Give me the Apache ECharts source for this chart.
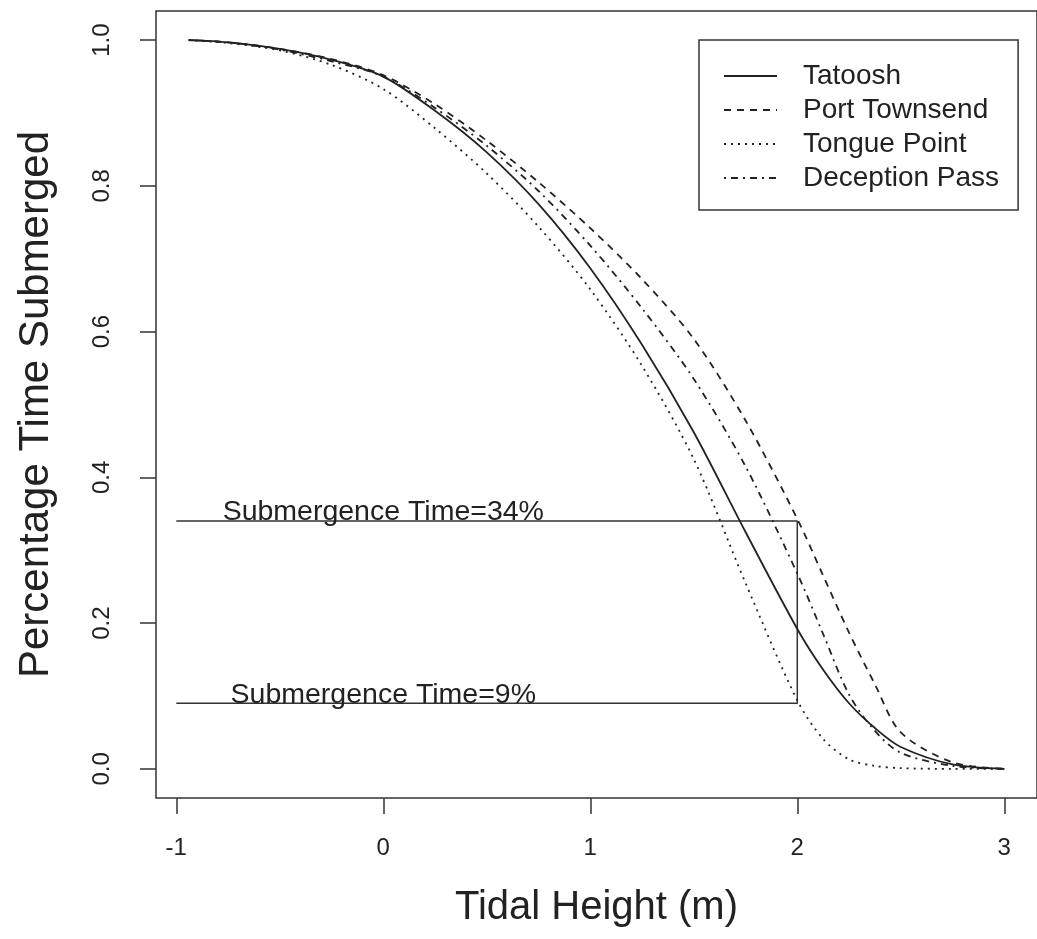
<!DOCTYPE html>
<html>
<head>
<meta charset="utf-8">
<script src="https://cdn.jsdelivr.net/npm/echarts@6/dist/echarts.min.js"></script>
<style>
html,body{margin:0;padding:0;background:#fff;overflow:hidden}
#c{width:1037px;height:939px}
</style>
</head>
<body>
<div id="c"></div>
<script>
// ---- data ----
const tidalHeight   = [-0.94, -0.75, -0.5, -0.25, 0, 0.25, 0.5, 0.75, 1.0, 1.25, 1.5, 1.75, 2.0, 2.125, 2.25, 2.375, 2.5, 2.75, 3.0];
const tatoosh       = [1.0, 0.997, 0.988, 0.973, 0.950, 0.903, 0.846, 0.775, 0.687, 0.582, 0.462, 0.325, 0.192, 0.136, 0.090, 0.056, 0.030, 0.006, 0.0];
const portTownsend  = [1.0, 0.997, 0.988, 0.974, 0.952, 0.912, 0.862, 0.805, 0.742, 0.672, 0.590, 0.478, 0.343, 0.265, 0.187, 0.116, 0.050, 0.009, 0.0];
const tonguePoint   = [1.0, 0.996, 0.986, 0.966, 0.933, 0.879, 0.817, 0.744, 0.658, 0.553, 0.425, 0.255, 0.094, 0.041, 0.013, 0.004, 0.001, 0.0, 0.0];
const deceptionPass = [1.0, 0.997, 0.987, 0.971, 0.950, 0.907, 0.855, 0.793, 0.718, 0.632, 0.535, 0.415, 0.268, 0.185, 0.102, 0.052, 0.022, 0.004, 0.0];
const seriesNames   = ['Tatoosh', 'Port Townsend', 'Tongue Point', 'Deception Pass'];

const refX = [-1, 2, 2, -1];
const refY = [0.34, 0.34, 0.09, 0.09];
const annotationX = [0, 0];
const annotationY = [0.34, 0.09];
const annotationLabels = ['Submergence Time=34%', 'Submergence Time=9%'];

const xTicks = [-1, 0, 1, 2, 3];
const yTicks = [0, 0.2, 0.4, 0.6, 0.8, 1.0];
const xTitle = 'Tidal Height (m)';
const yTitle = 'Percentage Time Submerged';

// ---- chart ----
const FONT = '"Liberation Sans", Arial, Helvetica, sans-serif';
const INK = '#222';
const zip = (xs, ys) => xs.map((x, i) => [x, ys[i]]);

const lineSeries = (name, vals, dash) => ({
  name, type: 'line', data: zip(tidalHeight, vals),
  symbol: 'none', showSymbol: false, smooth: 0.3,
  lineStyle: { color: INK, width: 1.8, type: dash },
  itemStyle: { color: INK },
  silent: true, z: 3
});

const chart = echarts.init(document.getElementById('c'), null, { renderer: 'canvas' });
chart.setOption({
  animation: false,
  backgroundColor: '#fff',
  textStyle: { fontFamily: FONT },
  grid: { left: 156, top: 11, width: 889.5, height: 787, show: true,
          borderColor: '#333', borderWidth: 1.5, backgroundColor: 'transparent' },
  xAxis: {
    type: 'value', min: -1.098, max: 3.158,
    axisLine: { show: false, onZero: false },
    splitLine: { show: false },
    axisTick: { show: true, inside: false, length: 16, customValues: xTicks,
                lineStyle: { color: '#333', width: 1.5 } },
    axisLabel: { customValues: xTicks, margin: 38, fontSize: 24, color: INK, fontFamily: FONT,
                 formatter: v => String(v) },
    name: xTitle, nameLocation: 'middle', nameGap: 90,
    nameTextStyle: { fontSize: 40, color: INK, fontFamily: FONT }
  },
  yAxis: {
    type: 'value', min: -0.04, max: 1.04,
    axisLine: { show: false, onZero: false },
    splitLine: { show: false },
    axisTick: { show: true, inside: false, length: 16, customValues: yTicks,
                lineStyle: { color: '#333', width: 1.5 } },
    axisLabel: { customValues: yTicks, rotate: 90, margin: 42, fontSize: 24, color: INK, fontFamily: FONT,
                 formatter: v => v.toFixed(1) },
    name: yTitle, nameLocation: 'middle', nameGap: 99, nameRotate: 90,
    nameTextStyle: { fontSize: 42, color: INK, fontFamily: FONT }
  },
  legend: {
    data: seriesNames, orient: 'vertical', left: 699, top: 40,
    itemWidth: 53, itemHeight: 14, itemGap: 0,
    padding: [19, 19, 15, 24],
    borderColor: '#333', borderWidth: 1.5, backgroundColor: '#fff',
    selectedMode: false,
    itemStyle: { opacity: 0 },
    textStyle: { fontSize: 28, lineHeight: 34, color: INK, fontFamily: FONT, padding: [0, 0, 0, 21] }
  },
  series: [
    lineSeries(seriesNames[0], tatoosh, 'solid'),
    lineSeries(seriesNames[1], portTownsend, [7, 6]),
    lineSeries(seriesNames[2], tonguePoint, [2, 5]),
    lineSeries(seriesNames[3], deceptionPass, [2, 5, 7, 5]),
    {
      name: 'ref', type: 'line', data: zip(refX, refY), symbol: 'none', silent: true,
      lineStyle: { color: '#333', width: 1.5 }, z: 2
    },
    {
      name: 'annot', type: 'scatter', data: zip(annotationX, annotationY), symbolSize: 0, silent: true,
      itemStyle: { opacity: 1, color: INK },
      label: { show: true, position: 'top', distance: 0, offset: [0, 6],
               formatter: p => annotationLabels[p.dataIndex],
               fontSize: 28.5, color: INK, fontFamily: FONT }
    }
  ]
});
</script>
</body>
</html>
